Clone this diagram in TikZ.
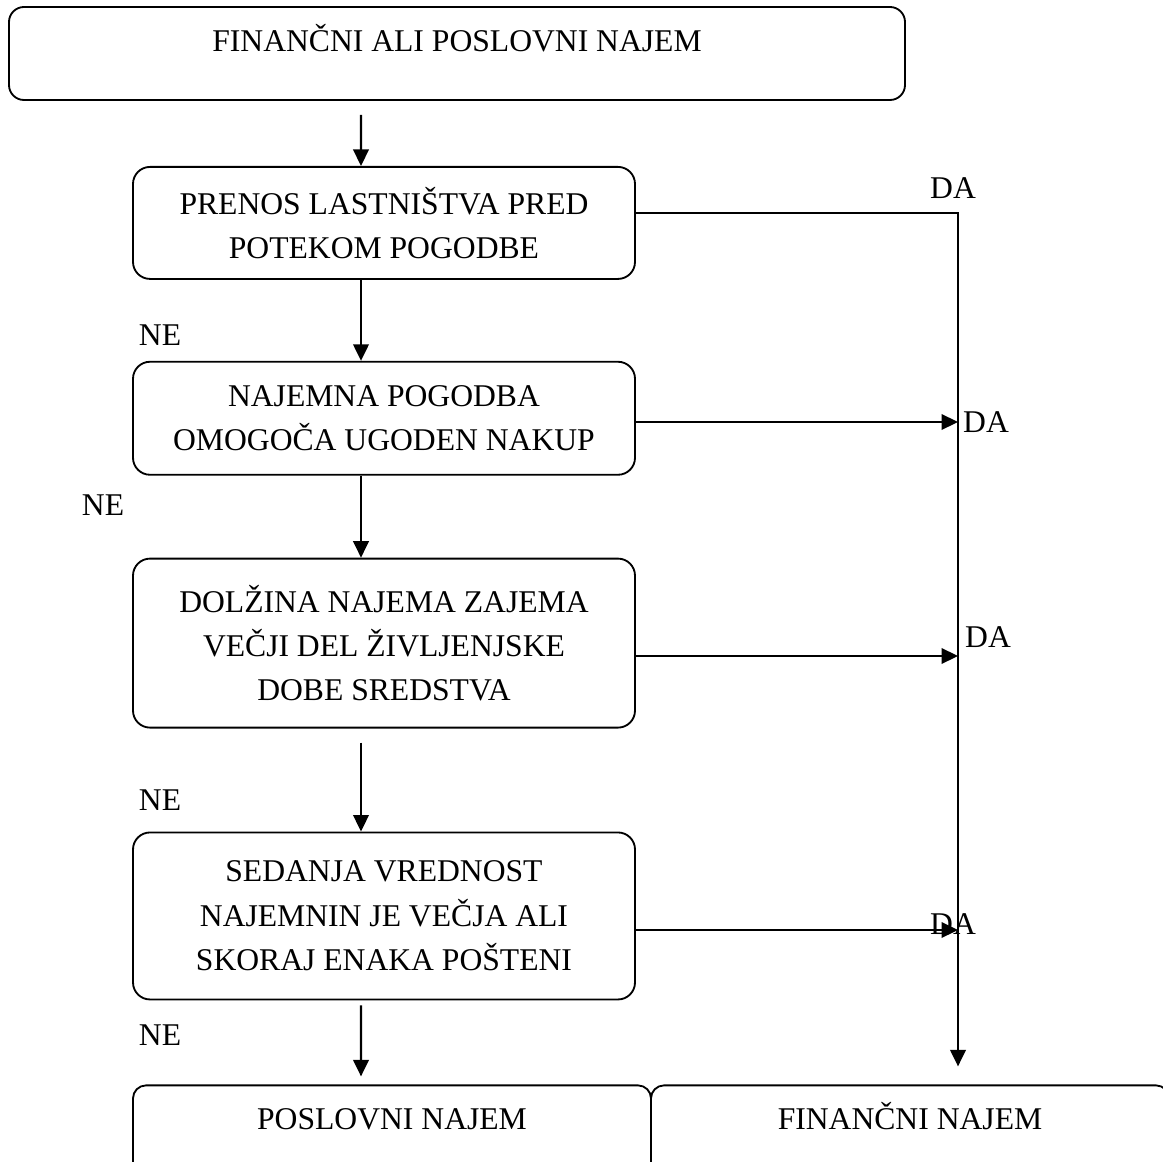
\documentclass[tikz,border=0pt]{standalone}
\usepackage{fontspec}
\setmainfont{Liberation Serif}
\usepackage{tikz}
\usetikzlibrary{arrows.meta,positioning}

\begin{document}
\begin{tikzpicture}[
  node distance=1.6cm and 0cm,
  >={Triangle[length=0.33cm,width=0.31cm]},
  every node/.style={font=\fontsize{18}{25.3}\selectfont},
  block/.style={draw, line width=1.05pt, rounded corners=0.34cm, align=center, minimum width=10.04cm},
  wide/.style={draw, line width=1.05pt, rounded corners=0.3cm, minimum height=1.86cm, text height=0.44cm, text depth=0.52cm, outer sep=0pt},
  link/.style={->, line width=1.25pt}
]
\path[use as bounding box, clip] (0,0) rectangle (23.26,-23.24);

\node[wide, minimum width=17.92cm] (top) at (9.14,-1.07) {FINANČNI ALI POSLOVNI NAJEM};
\node[block, minimum height=2.24cm, below=1.32cm of top, xshift=-1.46cm] (q1) {PRENOS LASTNIŠTVA PRED\\POTEKOM POGODBE};
\node[block, minimum height=2.26cm, below=1.62cm of q1] (q2) {NAJEMNA POGODBA\\OMOGOČA UGODEN NAKUP};
\node[block, minimum height=3.38cm, below=1.64cm of q2] (q3) {DOLŽINA NAJEMA ZAJEMA\\VEČJI DEL ŽIVLJENJSKE\\DOBE SREDSTVA};
\node[block, minimum height=3.34cm, below=2.06cm of q3] (q4) {SEDANJA VREDNOST\\NAJEMNIN JE VEČJA ALI\\SKORAJ ENAKA POŠTENI};
\node[wide, minimum width=10.36cm, rounded corners=0.26cm, below=1.7cm of q4, xshift=0.16cm] (op) {POSLOVNI NAJEM};
\node[wide, minimum width=10.36cm, rounded corners=0.26cm, right=0pt of op] (fin) {FINANČNI NAJEM};

% points on the DA line
\coordinate (r1) at (19.16,-4.26);
\coordinate (r2) at (19.16,-8.44);
\coordinate (r3) at (19.16,-13.12);
\coordinate (r4) at (19.16,-18.6);

% NE path
\draw[link, shorten <=0.3cm] ([xshift=-1.92cm]top.south) -- ([xshift=-0.46cm]q1.north);
\draw[link] ([xshift=-0.46cm]q1.south) -- ([xshift=-0.46cm]q2.north);
\draw[link] ([xshift=-0.46cm]q2.south) -- ([xshift=-0.46cm]q3.north);
\draw[link, shorten <=0.28cm] ([xshift=-0.46cm]q3.south) -- ([xshift=-0.46cm]q4.north);
\draw[link, shorten <=0.1cm, shorten >=0.18cm] ([xshift=-0.46cm]q4.south) -- ([xshift=-0.62cm]op.north);

% DA path
\draw[link, shorten >=0.38cm] (q1.east |- r1) -- (r1) -- (r1 |- fin.north);
\draw[link] (q2.east |- r2) -- (r2);
\draw[link] (q3.east |- r3) -- (r3);
\draw[link] (q4.east |- r4) -- (r4);

\node (da1) at (19.06,-3.76) {DA};
\node (da2) at (19.72,-8.44) {DA};
\node (da3) at (19.76,-12.74) {DA};
\node (da4) at (19.06,-18.48) {DA};
\node (ne1) at (3.2,-6.7) {NE};
\node (ne2) at (2.06,-10.1) {NE};
\node (ne3) at (3.2,-16.0) {NE};
\node (ne4) at (3.2,-20.7) {NE};
\end{tikzpicture}
\end{document}
